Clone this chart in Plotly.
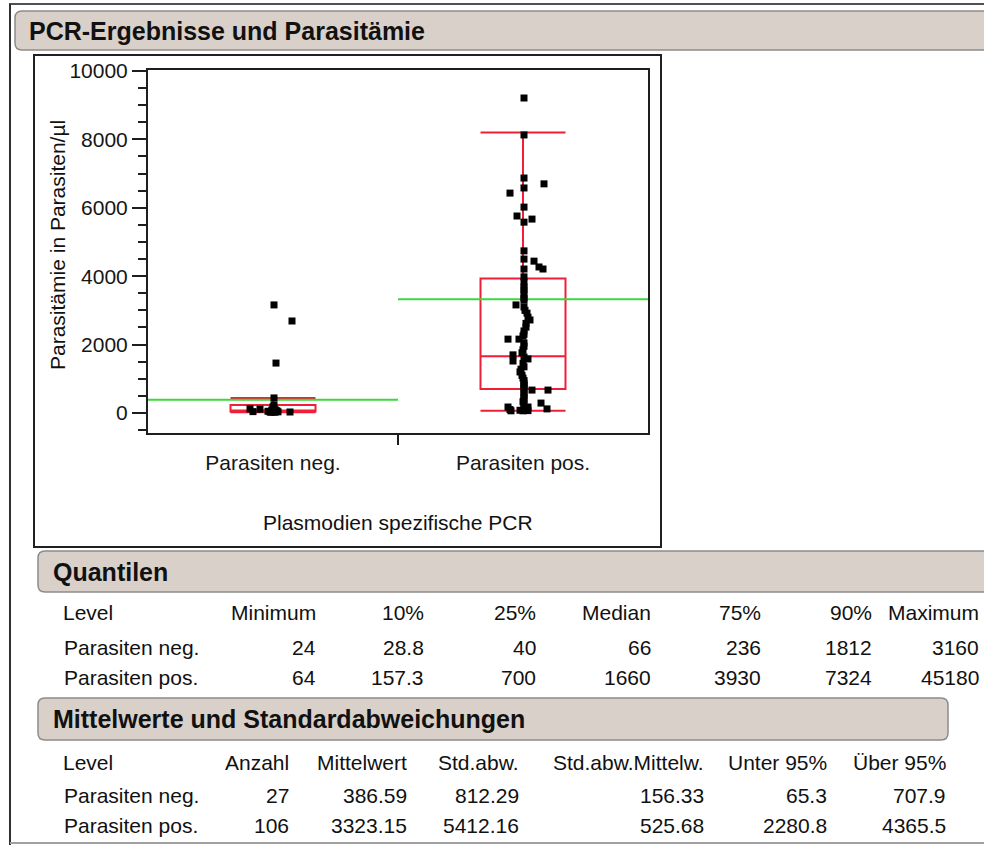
import plotly.graph_objects as go

W, H = 984, 845

# ---------------- data ----------------
categories = ["Parasiten neg.", "Parasiten pos."]
y_tickvals = [0, 2000, 4000, 6000, 8000, 10000]
y_ticktext = ["0", "2000", "4000", "6000", "8000", "10000"]

neg_values = [3160, 2690, 1460, 440, 236, 180, 120, 110, 100, 90, 80, 70, 66, 66,
              60, 55, 50, 45, 40, 40, 38, 35, 32, 30, 29, 26, 24]
neg_jitter = [0.004, 0.076, 0.012, 0.004, 0.004, 0.0, -0.092, -0.052, 0.008, -0.004,
              0.0, 0.012, 0.004, -0.004, 0.016, 0.008, -0.02, 0.0, -0.08, 0.012,
              -0.004, 0.02, 0.004, -0.012, 0.068, 0.008, -0.008]

pos_values = [9210, 8130, 6870, 6700, 6580, 6430, 6020, 5760, 5670, 5580, 4740, 4500,
              4440, 4270, 4210, 4210, 3980, 3830, 3680, 3600, 3480, 3360, 3300, 3160,
              3100, 3000, 2920, 2800, 2720, 2620, 2510, 2400, 2300, 2250, 2160, 2160,
              2050, 1950, 1850, 1760, 1700, 1640, 1580, 1520, 1450, 1350, 1280, 1200,
              1100, 1020, 950, 880, 820, 760, 700, 670, 670, 600, 530, 450, 380, 330,
              290, 250, 175, 175, 150, 120, 100, 90, 80, 70, 64, 64]
pos_jitter = [0.004, 0.004, 0.004, 0.084, 0.004, -0.052, 0.004, -0.024, 0.036, 0.004,
              0.004, 0.004, 0.044, 0.064, 0.08, 0.004, 0.004, 0.004, 0.004, 0.004,
              0.004, 0.004, 0.004, -0.028, 0.004, 0.008, 0.016, 0.02, 0.028, 0.012,
              0.012, 0.004, 0.004, 0.0, -0.06, -0.016, 0.004, 0.004, 0.0, -0.004,
              -0.04, 0.004, 0.02, -0.04, 0.0, 0.004, -0.008, -0.012, -0.004, 0.0,
              0.004, 0.004, 0.004, 0.004, 0.004, 0.036, 0.1, 0.004, 0.004, 0.004,
              0.004, 0.0, 0.072, 0.004, 0.02, -0.06, 0.004, 0.096, -0.052, 0.004,
              -0.012, 0.02, -0.048, 0.0]

box_q1 = [40, 700]
box_median = [66, 1660]
box_q3 = [236, 3930]
box_lower = [24, 64]
box_upper = [440, 8200]
group_means = [386.59, 3323.15]

q_columns = ["Level", "Minimum", "10%", "25%", "Median", "75%", "90%", "Maximum"]
q_rows = [["Parasiten neg.", "24", "28.8", "40", "66", "236", "1812", "3160"],
          ["Parasiten pos.", "64", "157.3", "700", "1660", "3930", "7324", "45180"]]

m_columns = ["Level", "Anzahl", "Mittelwert", "Std.abw.", "Std.abw.Mittelw.",
             "Unter 95%", "Über 95%"]
m_rows = [["Parasiten neg.", "27", "386.59", "812.29", "156.33", "65.3", "707.9"],
          ["Parasiten pos.", "106", "3323.15", "5412.16", "525.68", "2280.8", "4365.5"]]

# ---------------- helpers ----------------
FONT = "Arial, Liberation Sans, sans-serif"
TXT = "#161616"
RED = "rgb(240,30,55)"
GREEN = "rgb(60,215,60)"


def px(x):
    return x / W


def py(y):
    return 1 - y / H


def rrect(x0, y0, x1, y1, r):
    pts = [("M", x0 + r, y0), ("L", x1 - r, y0), ("Q", x1, y0, x1, y0 + r),
           ("L", x1, y1 - r), ("Q", x1, y1, x1 - r, y1), ("L", x0 + r, y1),
           ("Q", x0, y1, x0, y1 - r), ("L", x0, y0 + r), ("Q", x0, y0, x0 + r, y0)]
    s = ""
    for p in pts:
        cmd = p[0]
        coords = p[1:]
        parts = []
        for i in range(0, len(coords), 2):
            parts.append(f"{px(coords[i]):.5f},{py(coords[i + 1]):.5f}")
        s += cmd + " " + " ".join(parts) + " "
    return s + "Z"


fig = go.Figure()

# boxes
for i in range(2):
    fig.add_trace(go.Box(
        x=[i], q1=[box_q1[i]], median=[box_median[i]], q3=[box_q3[i]],
        lowerfence=[box_lower[i]], upperfence=[box_upper[i]],
        width=0.34, whiskerwidth=1, boxpoints=False,
        fillcolor="rgba(0,0,0,0)", line=dict(color=RED, width=2),
        showlegend=False, hoverinfo="skip"))

# mean lines
for i in range(2):
    fig.add_trace(go.Scatter(
        x=[i - 0.5, i + 0.5], y=[group_means[i], group_means[i]], mode="lines",
        line=dict(color=GREEN, width=2), showlegend=False, hoverinfo="skip"))

# points
fig.add_trace(go.Scatter(
    x=[0 + j for j in neg_jitter], y=neg_values, mode="markers",
    marker=dict(symbol="square", size=7, color="black"), showlegend=False))
fig.add_trace(go.Scatter(
    x=[1 + j for j in pos_jitter], y=pos_values, mode="markers",
    marker=dict(symbol="square", size=7, color="black"), showlegend=False))

AX = "#1e1e1e"
fig.update_layout(
    template="none",
    width=W, height=H, autosize=False,
    margin=dict(l=0, r=0, t=0, b=0, pad=0, autoexpand=False),
    paper_bgcolor="white", plot_bgcolor="white",
    font=dict(family=FONT, size=21, color=TXT),
    showlegend=False,
    xaxis=dict(domain=[px(148), px(648)], range=[-0.5, 1.5], automargin=False,
               tickmode="array", tickvals=[0, 1], ticktext=categories, ticks="",
               showline=True, linecolor=AX, linewidth=2, mirror=True,
               showgrid=False, zeroline=False, ticklabelstandoff=10,
               tickfont=dict(size=21, color=TXT),
               minor=dict(tickmode="array", tickvals=[0.5], ticks="outside",
                          ticklen=10, tickwidth=2, tickcolor=AX, showgrid=False)),
    yaxis=dict(domain=[py(433), py(70)], range=[-585, 10029], automargin=False,
               tickmode="array", tickvals=y_tickvals, ticktext=y_ticktext,
               ticks="outside", ticklen=14, tickwidth=2, tickcolor=AX,
               showline=True, linecolor=AX, linewidth=2, mirror=True,
               showgrid=False, zeroline=False,
               tickfont=dict(size=21, color=TXT),
               minor=dict(dtick=500, ticks="outside", ticklen=8, tickwidth=2,
                          tickcolor=AX, showgrid=False)),
)

shapes = []
annotations = []

# outer report lines
shapes.append(dict(type="line", xref="paper", yref="paper", x0=px(9), x1=px(984),
                   y0=py(4), y1=py(4), line=dict(color="#505050", width=2)))
shapes.append(dict(type="line", xref="paper", yref="paper", x0=px(10), x1=px(10),
                   y0=py(4), y1=py(845), line=dict(color="#303030", width=2)))
shapes.append(dict(type="line", xref="paper", yref="paper", x0=px(10), x1=px(984),
                   y0=py(843), y1=py(843), line=dict(color="#a0a0a0", width=2)))

# header bars
HDR_FILL = "rgb(216,208,201)"
HDR_LINE = "rgb(140,140,140)"
for (x0, y0, x1, y1) in [(15, 11, 1000, 50), (38, 551, 1000, 592), (38, 698, 948, 740)]:
    shapes.append(dict(type="path", xref="paper", yref="paper",
                       path=rrect(x0, y0, x1, y1, 7), fillcolor=HDR_FILL,
                       line=dict(color=HDR_LINE, width=1.5), layer="below"))

# graph frame
shapes.append(dict(type="rect", xref="paper", yref="paper", x0=px(34), x1=px(661),
                   y0=py(547), y1=py(55), line=dict(color="#202020", width=2),
                   fillcolor="rgba(0,0,0,0)", layer="below"))

fig.update_layout(shapes=shapes)


def txt(x, y, s, anchor="left", size=21, bold=False, angle=0):
    annotations.append(dict(xref="paper", yref="paper", x=px(x), y=py(y),
                            text=f"<b>{s}</b>" if bold else s, showarrow=False,
                            xanchor=anchor, yanchor="middle", textangle=angle,
                            font=dict(family=FONT, size=size, color="#111111")))


# header titles
txt(27, 31, "PCR-Ergebnisse und Parasitämie", size=25, bold=True)
txt(51, 572, "Quantilen", size=25, bold=True)
txt(51, 719, "Mittelwerte und Standardabweichungen", size=25, bold=True)

# axis titles
txt(58, 245, "Parasitämie in Parasiten/µl", anchor="center", angle=-90)
txt(398, 522, "Plasmodien spezifische PCR", anchor="center")

# Quantilen table
q_right = [None, 318, 426, 538, 653, 763, 874, 981]
q_y = [612, 647, 677]
for c, name in enumerate(q_columns):
    if c == 0:
        txt(61, q_y[0], name)
    else:
        txt(q_right[c], q_y[0], name, anchor="right")
for r, row in enumerate(q_rows):
    for c, val in enumerate(row):
        if c == 0:
            txt(62, q_y[r + 1], val)
        else:
            txt(q_right[c], q_y[r + 1], val, anchor="right")

# Mittelwerte table
m_right = [None, 291, 409, 521, 706, 829, 948]
m_y = [762, 795, 825]
for c, name in enumerate(m_columns):
    if c == 0:
        txt(61, m_y[0], name)
    else:
        txt(m_right[c], m_y[0], name, anchor="right")
for r, row in enumerate(m_rows):
    for c, val in enumerate(row):
        if c == 0:
            txt(62, m_y[r + 1], val)
        else:
            txt(m_right[c], m_y[r + 1], val, anchor="right")

fig.update_layout(annotations=annotations)

fig.write_html("out.html")
